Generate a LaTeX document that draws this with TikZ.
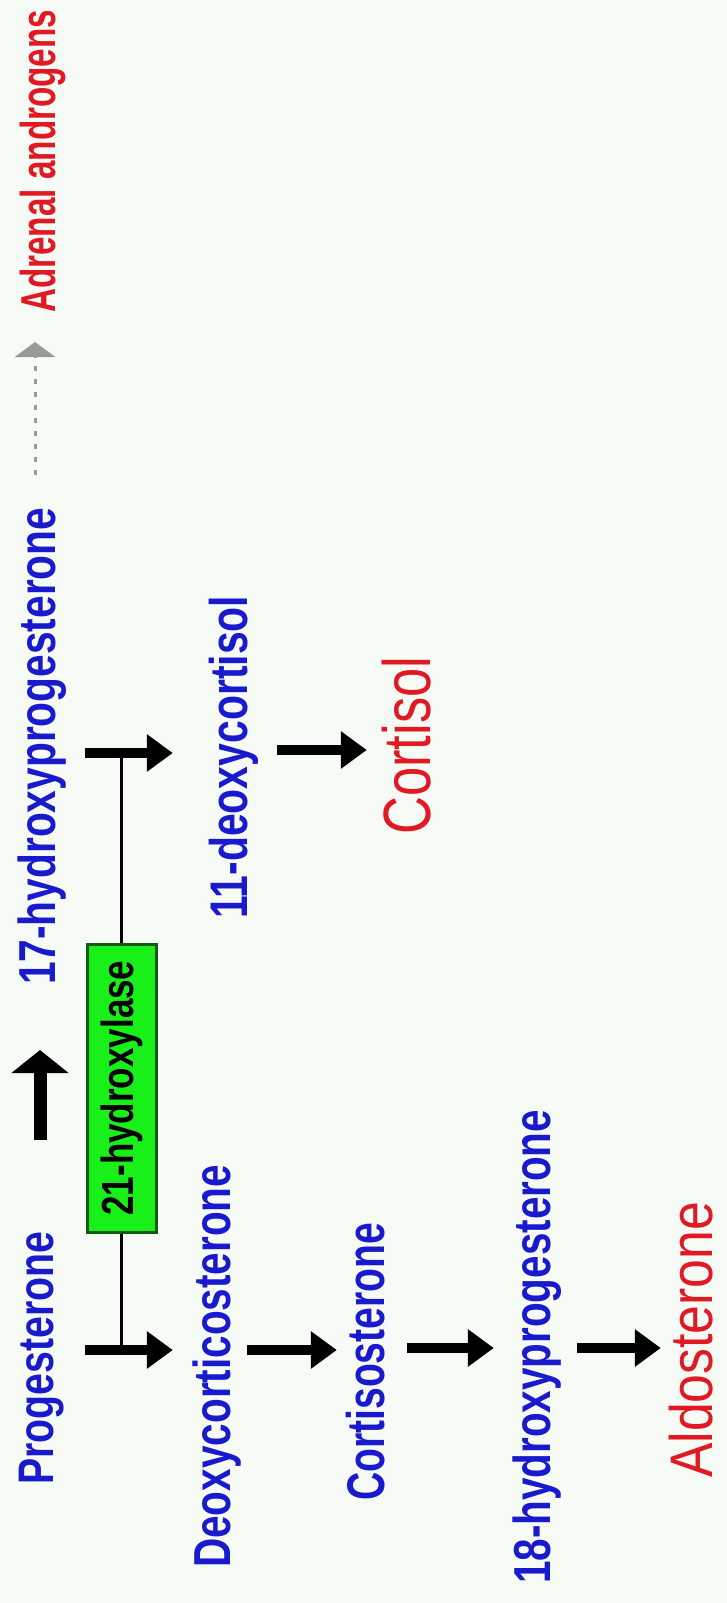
\documentclass[tikz,border=0pt]{standalone}
\usepackage{fontspec}
\setmainfont{Liberation Sans}
\usetikzlibrary{arrows.meta}
\definecolor{bgcol}{RGB}{247,251,245}
\definecolor{txtblue}{RGB}{25,25,205}
\definecolor{txtred}{RGB}{225,25,35}
\definecolor{enzfill}{RGB}{25,240,25}
\definecolor{enzdraw}{RGB}{20,90,20}
\definecolor{dashgray}{RGB}{150,155,150}
\newcommand{\fittext}[3]{\resizebox{#1pt}{\height}{\fontsize{#2}{#2}\selectfont #3}}
\begin{document}
\begin{tikzpicture}[x=1pt,y=1pt,
  lbl/.style={rotate=90, anchor=base west, inner sep=0pt, text depth=0pt, font=\bfseries},
  mol/.style={lbl, text=txtblue},
  hormone/.style={lbl, text=txtred},
  arr/.style={line width=10pt, -{Triangle[length=26pt,width=36pt]}},
  uparr/.style={line width=13pt, -{Triangle[length=23pt,width=56pt]}},
  dasharr/.style={draw=dashgray, line width=3pt, dash pattern=on 5pt off 8pt, -{Triangle[length=15pt,width=40pt]}},
  link/.style={line width=3pt},
  enz/.style={rotate=90, draw=enzdraw, fill=enzfill, line width=3pt, inner sep=0pt, minimum width=288pt, minimum height=69pt, font=\bfseries}
]
\useasboundingbox (0,0) rectangle (727,-1603);
\fill[bgcol] (0,0) rectangle (727,-1603);

% molecules
\node[mol, text height=36pt] (prog) at (53,-1485) {\fittext{253}{50}{Progesterone}};
\node[mol, text height=38pt] (ohp17) at (55,-985) {\fittext{477}{52}{17-hydroxyprogesterone}};
\node[mol, text height=38pt] (deoxy) at (230,-1568) {\fittext{403}{52}{Deoxycorticosterone}};
\node[mol, text height=39pt] (cortico) at (384,-1501) {\fittext{278}{53}{Cortisosterone}};
\node[mol, text height=38pt] (ohp18) at (550,-1584) {\fittext{474}{52}{18-hydroxyprogesterone}};
\node[mol, text height=39pt] (dc11) at (247,-919) {\fittext{323}{53}{11-deoxycortisol}};
\node[hormone, text height=35pt] (andro) at (55,-313) {\fittext{303}{49}{Adrenal androgens}};
\node[hormone, text height=48pt, font=\mdseries] (cortisol) at (430,-835) {\fittext{178}{67}{Cortisol}};
\node[hormone, text height=44pt, font=\mdseries] (aldo) at (712,-1478) {\fittext{276}{60}{Aldosterone}};

% enzyme box
\node[enz] (enz) at (121.5,-1088) {\fittext{255}{45}{21-hydroxylase}};

% rows of arrows
\coordinate (r1) at (0,-1350);
\coordinate (r3) at (0,-1348);
\coordinate (r5) at (0,-753);
\coordinate (r6) at (0,-750);
\coordinate (c7) at (40,0);
\coordinate (c8) at (35,0);
\coordinate (j5) at (121.5,-753);
\coordinate (j1) at (121.5,-1347);

\draw[arr, shorten <=32pt, shorten >=19pt] (prog.south |- r1) -- (deoxy.north |- r1);
\draw[arr, shorten <=17pt, shorten >=8pt] (deoxy.south |- r1) -- (cortico.north |- r1);
\draw[arr, shorten <=23pt, shorten >=18pt] (cortico.south |- r3) -- (ohp18.north |- r3);
\draw[arr, shorten <=27pt, shorten >=7pt] (ohp18.south |- r3) -- (aldo.north |- r3);
\draw[arr, shorten <=30pt, shorten >=35pt] (ohp17.south |- r5) -- (dc11.north |- r5);
\draw[arr, shorten <=30pt, shorten >=15pt] (dc11.south |- r6) -- (cortisol.north |- r6);
\draw[uparr, shorten <=92pt, shorten >=65pt] (prog.east -| c7) -- (ohp17.west -| c7);
\draw[dasharr, shorten <=33pt, shorten >=29pt] (ohp17.east -| c8) -- (andro.west -| c8);

% enzyme links
\draw[link] (enz.east) -- (j5);
\draw[link] (enz.west) -- (j1);
\end{tikzpicture}
\end{document}
